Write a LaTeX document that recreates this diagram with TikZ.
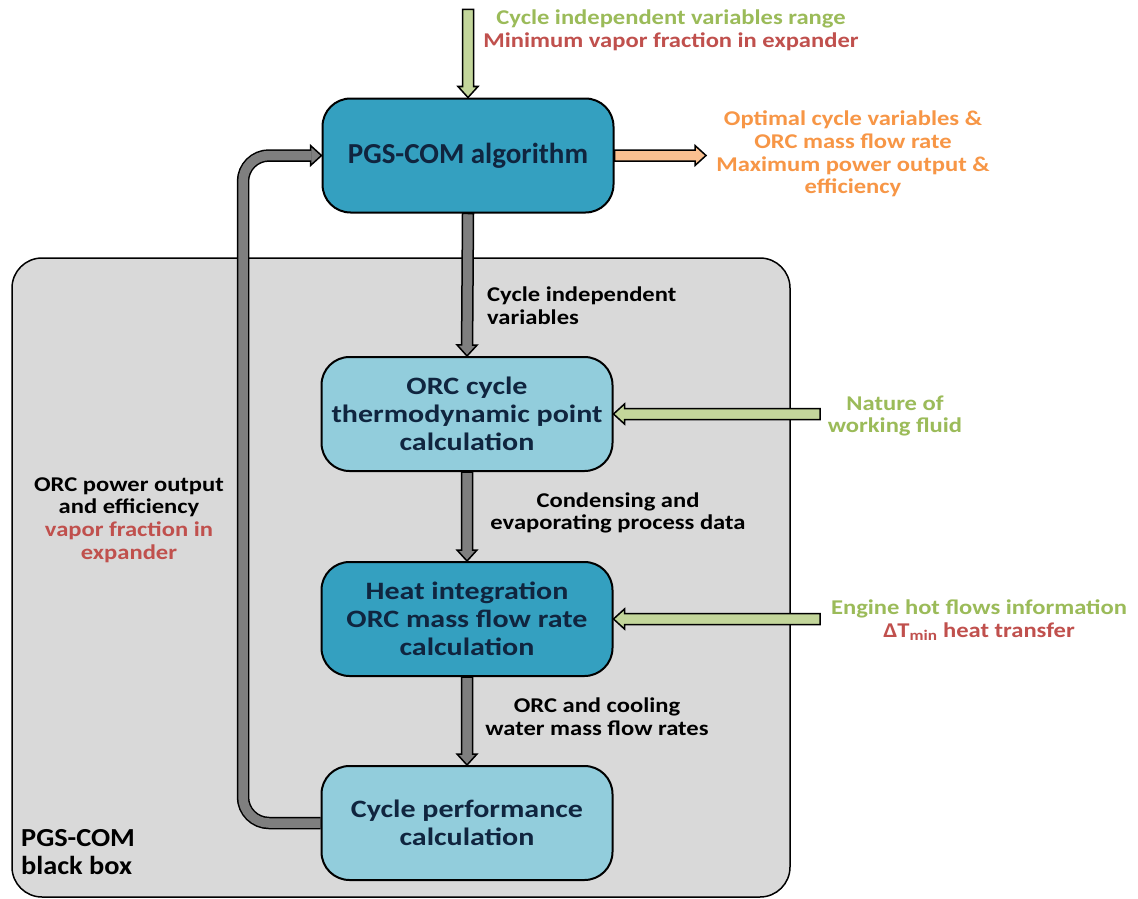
\documentclass[tikz,border=0pt]{standalone}
\usepackage{fontspec}
\setmainfont{Carlito}
\newfontfamily\boxfnt{Carlito}[FakeStretch=1.2]
\newfontfamily\lblfnt{Carlito}[FakeStretch=1.17]
\newfontfamily\bbfnt{Carlito}[FakeStretch=1.09]
\usetikzlibrary{calc}
\pgfdeclarelayer{bglayer}
\pgfdeclarelayer{arrlayer}
\pgfsetlayers{bglayer,arrlayer,main}
\definecolor{bggray}{RGB}{217,217,217}
\definecolor{midblue}{RGB}{52,160,192}
\definecolor{lightblue}{RGB}{146,205,220}
\definecolor{boxtext}{RGB}{16,37,63}
\definecolor{greentext}{RGB}{155,187,89}
\definecolor{redtext}{RGB}{192,80,77}
\definecolor{orangetext}{RGB}{247,150,70}
\definecolor{grayarrow}{RGB}{127,127,127}
\definecolor{greenarrow}{RGB}{195,214,155}
\definecolor{orangearrow}{RGB}{250,192,144}
\newcommand\fatarr[3]{%
  \path ($(#2)!11pt!(#1)$) coordinate (fah);
  \filldraw[fatline, fill=#3] ($(#1)!5.5pt!90:(#2)$) -- ($(fah)!5.5pt!90:(#2)$) -- ($(fah)!10pt!90:(#2)$) -- (#2) -- ($(fah)!10pt!-90:(#2)$) -- ($(fah)!5.5pt!-90:(#2)$) -- ($(#1)!5.5pt!-90:(#2)$) -- cycle;}
\begin{document}
\begin{tikzpicture}[x=1pt,y=-1pt,
  fatline/.style={draw=black, line width=1.5pt, line join=miter},
  box/.style={draw=black, line width=2pt, rounded corners=28pt, minimum width=291pt, minimum height=114pt, align=center, text=boxtext, inner sep=0pt, font=\boxfnt\fontsize{25}{28.2}\selectfont\bfseries},
  midbox/.style={box, fill=midblue},
  lightbox/.style={box, fill=lightblue},
  blackbox/.style={draw=black, line width=1.5pt, rounded corners=30pt, fill=bggray, minimum width=778pt, minimum height=639pt},
  lbl/.style={align=center, inner sep=0pt, font=\lblfnt\fontsize{21}{22.6}\selectfont\bfseries}]
\useasboundingbox (0,0) rectangle (1138,899);
\begin{pgfonlayer}{bglayer}
\fill[white] (0,0) rectangle (1138,899);
\node[blackbox] (bb) at (401,577.5) {};
\end{pgfonlayer}
\node[midbox, font=\fontsize{29}{32}\selectfont\bfseries] (pgs) at (468,155.5) {PGS-COM algorithm};
\node[lightbox] (orc) at (467,414) {ORC cycle\\thermodynamic point\\calculation};
\node[midbox] (heat) at (467,619) {Heat integration\\ORC mass flow rate\\calculation};
\node[lightbox] (perf) at (467,823) {Cycle performance\\calculation};
\coordinate (topin) at ($(pgs.north)+(0,-88)$);
\coordinate (natin) at (820,414);
\coordinate (engin) at (820,619);
\coordinate (optout) at (706,155.5);
\coordinate (fbx) at (243,0);
\coordinate (fbh) at ($(pgs.west)+(-11,0)$);
\begin{pgfonlayer}{arrlayer}
\fatarr{topin}{pgs.north}{greenarrow}
\fatarr{pgs.south}{orc.north}{grayarrow}
\fatarr{orc.south}{heat.north}{grayarrow}
\fatarr{heat.south}{perf.north}{grayarrow}
\fatarr{natin}{orc.east}{greenarrow}
\fatarr{engin}{heat.east}{greenarrow}
\fatarr{pgs.east}{optout}{orangearrow}
\draw[line width=12.5pt, black, rounded corners=26pt] (perf.west) -- (fbx |- perf.west) -- (fbx |- pgs.west) -- (fbh);
\fatarr{fbh}{pgs.west}{grayarrow}
\draw[line width=9.5pt, grayarrow, rounded corners=26pt] (perf.west) -- (fbx |- perf.west) -- (fbx |- pgs.west) -- ($(fbh)+(1,0)$);
\end{pgfonlayer}
\node[lbl, text=greentext] (cycin) at (671,30) {Cycle independent variables range\\\textcolor{redtext}{Minimum vapor fraction in expander}};
\node[lbl, text=orangetext] (optl) at (853,154) {Optimal cycle variables \&\\ORC mass flow rate\\Maximum power output \&\\efficiency};
\node[lbl, align=left, anchor=west] (civ) at (487,306) {Cycle independent\\variables};
\node[lbl, text=greentext] (natl) at (895,416) {Nature of\\working fluid};
\node[lbl] (cond) at (618,513) {Condensing and\\evaporating process data};
\node[lbl, text=greentext] (engl) at (979,620) {Engine hot flows information\\\textcolor{redtext}{ΔT\textsubscript{min} heat transfer}};
\node[lbl] (orcw) at (597,717) {ORC and cooling\\water mass flow rates};
\node[lbl] (pwr) at (129,520) {ORC power output\\and efficiency\\\textcolor{redtext}{vapor fraction in}\\\textcolor{redtext}{expander}};
\node[lbl, align=left, anchor=west, font=\bbfnt\fontsize{26}{28.5}\selectfont\bfseries] (bbl) at (21,852) {PGS-COM\\black box};
\end{tikzpicture}
\end{document}
